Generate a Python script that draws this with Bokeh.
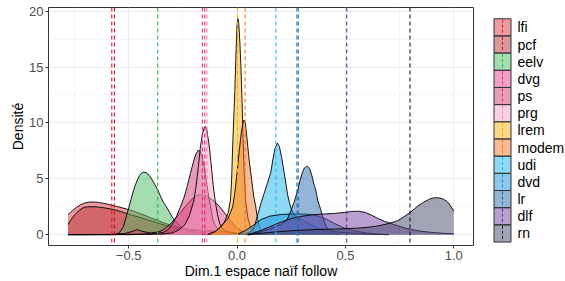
from bokeh.plotting import figure
from bokeh.layouts import row
from bokeh.models import Range1d, FixedTicker, Span
from bokeh.core.properties import value
from bokeh.embed import file_html
from bokeh.resources import INLINE

FONT = "Liberation Sans"

parties = ["lfi", "pcf", "eelv", "dvg", "ps", "prg", "lrem", "modem", "udi", "dvd", "lr", "dlf", "rn"]
colors = ["#DD353D", "#B33337", "#4DBB61", "#E94189", "#CF3971", "#F5A1C5", "#FBB30F",
          "#F37529", "#1BB3ED", "#198FD9", "#296BB1", "#7341A1", "#45476B"]
line_colors = ["#E41A1C", "#C8102E", "#2DB84A", "#E7298A", "#D6336C", "#F47FB5", "#F5B400",
               "#F5761F", "#1FBDEE", "#1A8AD4", "#1F5E9E", "#6A2C9A", "#14143C"]
means = [-0.578, -0.566, -0.366, -0.160, -0.149, -0.139, 0.002, 0.037, 0.179, 0.276, 0.282, 0.506, 0.798]

x_ticks = [-0.5, 0.0, 0.5, 1.0]
x_tick_labels = ["\u22120.5", "0.0", "0.5", "1.0"]
x_minor = [-0.75, -0.25, 0.25, 0.75]
y_ticks = [0, 5, 10, 15, 20]
y_minor = [2.5, 7.5, 12.5, 17.5]

lfi_x = [-0.78, -0.76, -0.74, -0.72, -0.70, -0.68, -0.66, -0.64, -0.62, -0.60, -0.57, -0.54, -0.51, -0.48,
         -0.45, -0.42, -0.39, -0.36, -0.33, -0.30, -0.26, -0.22, -0.18, -0.14, -0.10, -0.06, -0.02, 0.02, 0.06, 0.10]
lfi_y = [1.8, 2.15, 2.45, 2.7, 2.85, 2.92, 2.92, 2.88, 2.82, 2.74, 2.6, 2.45, 2.3, 2.12,
         1.9, 1.68, 1.45, 1.22, 1.0, 0.82, 0.62, 0.5, 0.42, 0.38, 0.34, 0.28, 0.2, 0.12, 0.05, 0.0]

pcf_x = [-0.78, -0.77, -0.75, -0.73, -0.71, -0.69, -0.66, -0.63, -0.60, -0.57, -0.54, -0.51, -0.48, -0.45,
         -0.42, -0.39, -0.36, -0.33, -0.30, -0.26, -0.22, -0.18, -0.14, -0.10, -0.06, -0.02, 0.02, 0.06]
pcf_y = [0.9, 1.25, 1.75, 2.15, 2.42, 2.5, 2.5, 2.45, 2.36, 2.25, 2.1, 1.9, 1.72, 1.55,
         1.38, 1.2, 1.0, 0.82, 0.65, 0.5, 0.4, 0.34, 0.3, 0.26, 0.2, 0.12, 0.05, 0.0]

eelv_x = [-0.555, -0.54, -0.525, -0.51, -0.50, -0.49, -0.48, -0.47, -0.46, -0.45, -0.44, -0.43, -0.42, -0.41,
          -0.40, -0.39, -0.38, -0.37, -0.36, -0.35, -0.34, -0.33, -0.32, -0.31, -0.30, -0.28, -0.26, -0.24,
          -0.22, -0.19, -0.16, -0.12]
eelv_y = [0.0, 0.25, 0.7, 1.7, 2.4, 3.1, 3.8, 4.4, 4.9, 5.3, 5.52, 5.6, 5.55, 5.4,
          5.15, 4.85, 4.5, 4.15, 3.75, 3.3, 2.9, 2.6, 2.3, 1.95, 1.6, 1.1, 0.72, 0.5,
          0.35, 0.2, 0.1, 0.0]

dvg_x = [-0.78, -0.70, -0.60, -0.52, -0.48, -0.46, -0.44, -0.40, -0.36, -0.34, -0.32, -0.30, -0.28, -0.26,
         -0.24, -0.22, -0.20, -0.18, -0.16, -0.14, -0.12, -0.10, -0.08, -0.06, -0.04, -0.02, 0.0, 0.02,
         0.05, 0.08, 0.12]
dvg_y = [0.0, 0.0, 0.02, 0.1, 0.3, 0.45, 0.3, 0.15, 0.25, 0.45, 0.75, 1.1, 1.55, 2.0,
         2.5, 2.95, 3.3, 3.55, 3.58, 3.45, 3.2, 2.9, 2.5, 2.0, 1.5, 1.0, 0.6, 0.35,
         0.15, 0.05, 0.0]

ps_x = [-0.78, -0.60, -0.45, -0.38, -0.34, -0.32, -0.30, -0.28, -0.26, -0.245, -0.23, -0.215, -0.20, -0.19,
        -0.18, -0.17, -0.16, -0.15, -0.14, -0.13, -0.12, -0.11, -0.10, -0.09, -0.08, -0.06, -0.04, -0.02,
        0.02, 0.06]
ps_y = [0.0, 0.0, 0.05, 0.1, 0.2, 0.4, 0.9, 1.6, 2.55, 3.3, 4.33, 5.5, 6.6, 7.2,
        7.55, 7.45, 6.9, 5.9, 4.6, 3.3, 2.3, 1.2, 0.8, 0.55, 0.4, 0.25, 0.18, 0.12,
        0.05, 0.0]

prg_x = [-0.78, -0.50, -0.35, -0.30, -0.27, -0.24, -0.22, -0.20, -0.19, -0.18, -0.17, -0.16, -0.15, -0.145,
         -0.14, -0.13, -0.12, -0.11, -0.10, -0.09, -0.08, -0.07, -0.06, -0.04, -0.02, 0.0, 0.03, 0.06]
prg_y = [0.0, 0.0, 0.05, 0.15, 0.4, 0.9, 1.7, 3.0, 4.2, 5.8, 7.7, 9.0, 9.65, 9.65,
         9.4, 8.2, 6.4, 4.4, 2.9, 1.8, 1.0, 0.6, 0.4, 0.25, 0.15, 0.08, 0.02, 0.0]

lrem_x = [-0.13, -0.10, -0.08, -0.06, -0.05, -0.04, -0.03, -0.025, -0.02, -0.015, -0.01, -0.005, 0.0, 0.004,
          0.008, 0.013, 0.018, 0.023, 0.028, 0.034, 0.04, 0.05, 0.06, 0.075, 0.09, 0.11, 0.14]
lrem_y = [0.0, 0.25, 0.6, 1.1, 1.5, 2.0, 3.2, 5.0, 8.0, 10.5, 13.0, 16.2, 18.8, 19.35,
          18.9, 17.2, 15.0, 12.0, 8.5, 5.0, 3.0, 1.5, 0.8, 0.4, 0.2, 0.08, 0.0]

modem_x = [-0.14, -0.10, -0.07, -0.04, -0.02, -0.01, 0.0, 0.01, 0.02, 0.027, 0.032, 0.038, 0.045, 0.055,
           0.063, 0.071, 0.078, 0.086, 0.093, 0.10, 0.11, 0.12, 0.14, 0.17]
modem_y = [0.0, 0.3, 0.8, 1.5, 2.5, 3.8, 5.5, 7.5, 9.2, 10.0, 10.25, 10.0, 8.8, 6.8,
           5.6, 4.33, 3.3, 2.55, 1.6, 0.9, 0.45, 0.22, 0.08, 0.0]

udi_x = [0.04, 0.06, 0.078, 0.09, 0.10, 0.11, 0.125, 0.14, 0.156, 0.165, 0.175, 0.186, 0.195, 0.205,
         0.217, 0.226, 0.233, 0.24, 0.248, 0.256, 0.265, 0.279, 0.30, 0.33, 0.37, 0.42, 0.47]
udi_y = [0.0, 0.2, 0.6, 1.4, 2.1, 2.8, 3.7, 4.6, 5.6, 6.7, 7.7, 8.2, 7.9, 7.0,
         5.6, 4.5, 3.6, 3.0, 2.4, 2.0, 1.75, 1.55, 1.3, 1.0, 0.6, 0.25, 0.0]

dvd_x = [0.0, 0.04, 0.08, 0.11, 0.15, 0.20, 0.25, 0.30, 0.35, 0.40, 0.45, 0.50, 0.55, 0.60, 0.65, 0.70]
dvd_y = [0.0, 0.4, 0.9, 1.35, 1.65, 1.8, 1.85, 1.85, 1.8, 1.5, 1.0, 0.55, 0.3, 0.15, 0.05, 0.0]

lr_x = [0.05, 0.10, 0.15, 0.20, 0.23, 0.25, 0.265, 0.28, 0.29, 0.30, 0.31, 0.32, 0.325, 0.335,
        0.345, 0.355, 0.363, 0.372, 0.38, 0.386, 0.395, 0.405, 0.415, 0.43, 0.46, 0.52, 0.60, 0.70]
lr_y = [0.0, 0.2, 0.5, 0.9, 1.3, 2.2, 3.0, 4.0, 4.8, 5.5, 5.95, 6.1, 6.12, 5.9,
        5.3, 4.5, 4.0, 3.1, 2.6, 2.25, 1.6, 1.0, 0.6, 0.35, 0.25, 0.15, 0.05, 0.0]

dlf_x = [0.05, 0.10, 0.15, 0.20, 0.25, 0.30, 0.35, 0.40, 0.45, 0.50, 0.53, 0.56, 0.59, 0.62,
         0.65, 0.68, 0.71, 0.74, 0.77, 0.80, 0.85, 0.90, 0.95, 1.0]
dlf_y = [0.0, 0.3, 0.7, 1.1, 1.45, 1.65, 1.78, 1.85, 1.9, 2.0, 2.08, 2.1, 2.0, 1.75,
         1.45, 1.2, 1.0, 0.8, 0.62, 0.47, 0.3, 0.2, 0.12, 0.08]

rn_x = [0.05, 0.15, 0.25, 0.35, 0.45, 0.55, 0.60, 0.65, 0.70, 0.74, 0.77, 0.80, 0.83, 0.86,
        0.89, 0.91, 0.93, 0.95, 0.97, 0.985, 1.0]
rn_y = [0.0, 0.2, 0.35, 0.45, 0.5, 0.58, 0.65, 0.78, 1.0, 1.25, 1.6, 2.0, 2.5, 2.9,
        3.2, 3.3, 3.3, 3.2, 2.95, 2.6, 2.1]

series_x = [lfi_x, pcf_x, eelv_x, dvg_x, ps_x, prg_x, lrem_x, modem_x, udi_x, dvd_x, lr_x, dlf_x, rn_x]
series_y = [lfi_y, pcf_y, eelv_y, dvg_y, ps_y, prg_y, lrem_y, modem_y, udi_y, dvd_y, lr_y, dlf_y, rn_y]

FIG_H = 281
TOP = 7
BOTTOM = 35

p = figure(width=475, height=FIG_H, x_range=Range1d(-0.870, 1.091), y_range=Range1d(-0.97, 20.33),
           output_backend="svg", toolbar_location=None,
           min_border_left=48, min_border_right=2, min_border_top=TOP, min_border_bottom=0,
           x_axis_label="Dim.1 espace naïf follow", y_axis_label="Densité")
p.background_fill_color = "white"
p.border_fill_color = "white"
p.outline_line_color = "#333333"
p.outline_line_width = 1

for xs, ys, c in zip(series_x, series_y, colors):
    p.varea(x=xs, y1=[0] * len(xs), y2=ys, fill_color=c, fill_alpha=0.5)
    p.line(x=xs, y=ys, line_color="black", line_width=0.9)

for m, lc in zip(means, line_colors):
    p.add_layout(Span(location=m, dimension="height", line_color=lc, line_width=1.1, line_dash="4 3"))

p.xaxis.ticker = FixedTicker(ticks=x_ticks, minor_ticks=x_minor)
p.yaxis.ticker = FixedTicker(ticks=y_ticks, minor_ticks=y_minor)
p.xaxis.major_label_overrides = {t: l for t, l in zip(x_ticks, x_tick_labels)}
for ax in (p.xaxis, p.yaxis):
    ax.axis_line_color = None
    ax.major_tick_line_color = "#333333"
    ax.major_tick_out = 3
    ax.major_tick_in = 0
    ax.minor_tick_line_color = None
    ax.major_label_text_font = FONT
    ax.major_label_text_font_size = "13px"
    ax.major_label_text_color = "#4D4D4D"
    ax.major_label_standoff = 1
    ax.axis_label_text_font = FONT
    ax.axis_label_text_font_size = "14px"
    ax.axis_label_text_font_style = "normal"
    ax.axis_label_text_color = "black"
    ax.axis_label_standoff = 0
for g in (p.xgrid, p.ygrid):
    g.grid_line_color = "#EBEBEB"
    g.grid_line_width = 1
    g.minor_grid_line_color = "#EBEBEB"
    g.minor_grid_line_width = 0.5

# legend panel: y range in page pixels, matched to the frame
LW = 90
lg = figure(width=LW, height=FIG_H, x_range=Range1d(0, LW), y_range=Range1d(FIG_H - BOTTOM, TOP),
            output_backend="svg", toolbar_location=None,
            min_border_left=0, min_border_right=0, min_border_top=TOP, min_border_bottom=BOTTOM,
            x_axis_type=None, y_axis_type=None)
lg.outline_line_color = None
lg.xgrid.visible = False
lg.ygrid.visible = False
lg.background_fill_color = "white"
lg.border_fill_color = "white"

step = 17.25
first = 18.3
key_w = 17.0
key_cx = 27.0
ys_leg = [first + step * (i + 0.5) for i in range(len(parties))]
lg.rect(x=[key_cx] * len(parties), y=ys_leg, width=key_w, height=step,
        fill_color=colors, fill_alpha=0.5, line_color="#333333", line_width=1)
lg.segment(x0=[key_cx] * len(parties), y0=[y - step / 2 + 1 for y in ys_leg],
           x1=[key_cx] * len(parties), y1=[y + step / 2 - 1 for y in ys_leg],
           line_color=line_colors, line_width=1, line_dash="3 2")
lg.text(x=[key_cx + key_w / 2 + 6.5] * len(parties), y=ys_leg, text=parties,
        text_font=value(FONT), text_font_size="14px", text_color="black",
        text_baseline="middle", text_align="left")

layout = row(p, lg)
open("out.html", "w").write(file_html(layout, INLINE))
